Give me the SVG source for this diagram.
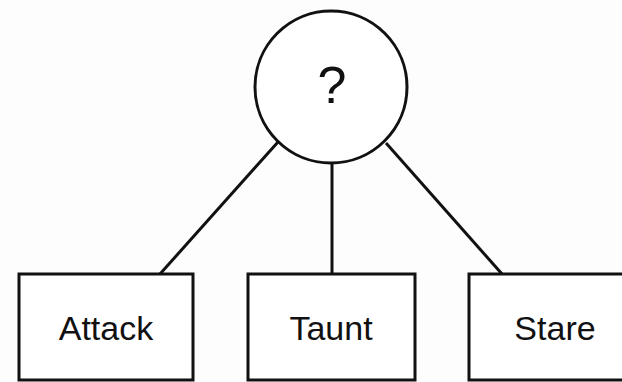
<svg xmlns="http://www.w3.org/2000/svg" width="622" height="382" viewBox="0 0 622 382">
<style>
.shape{fill:#fff;stroke:#111;stroke-width:3}
.edge{stroke:#111;stroke-width:3;fill:none}
.lbl{font-family:"Liberation Sans",Arial,sans-serif;fill:#111;text-anchor:middle}
</style>
<rect x="0" y="0" width="622" height="382" fill="#fdfdfd"/>
<g id="connectors">
<line class="edge" x1="278" y1="142" x2="160" y2="274"/>
<line class="edge" x1="332" y1="163" x2="332" y2="274"/>
<line class="edge" x1="386" y1="143" x2="502" y2="274"/>
</g>
<g id="root">
<circle class="shape" cx="331" cy="87" r="76"/>
<text class="lbl" x="332" y="103" font-size="52">?</text>
</g>
<g id="attack">
<rect class="shape" x="19" y="274" width="174" height="106"/>
<text class="lbl" x="106" y="340" font-size="34">Attack</text>
</g>
<g id="taunt">
<rect class="shape" x="248" y="274" width="167" height="106"/>
<text class="lbl" x="331" y="340" font-size="34">Taunt</text>
</g>
<g id="stare">
<rect class="shape" x="469" y="274" width="175" height="106"/>
<text class="lbl" x="555" y="340" font-size="34">Stare</text>
</g>
</svg>
